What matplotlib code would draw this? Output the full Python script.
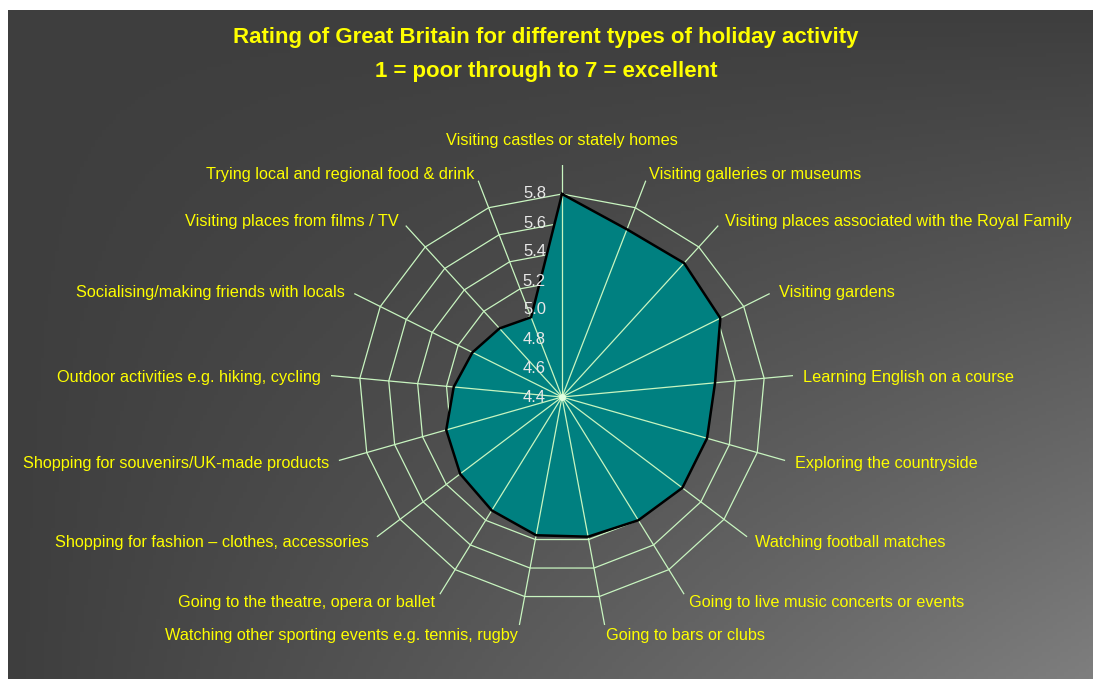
import numpy as np
import matplotlib
matplotlib.use('Agg')
from matplotlib import pyplot as plt
from matplotlib import transforms

# data
categories = ['Visiting castles or stately homes',
              'Visiting galleries or museums',
              'Visiting places associated with the Royal Family',
              'Visiting gardens',
              'Learning English on a course',
              'Exploring the countryside',
              'Watching football matches',
              'Going to live music concerts or events',
              'Going to bars or clubs',
              'Watching other sporting events e.g. tennis, rugby',
              'Going to the theatre, opera or ballet',
              'Shopping for fashion \u2013 clothes, accessories',
              'Shopping for souvenirs/UK-made products',
              'Outdoor activities e.g. hiking, cycling',
              'Socialising/making friends with locals',
              'Visiting places from films / TV',
              'Trying local and regional food & drink']
ratings = [5.80, 5.64, 5.65, 5.62, 5.46, 5.44, 5.44, 5.40, 5.38, 5.37,
           5.32, 5.28, 5.23, 5.15, 5.09, 5.04, 4.99]
rings = [4.6, 4.8, 5.0, 5.2, 5.4, 5.6, 5.8]
tick_labels = ['4.4', '4.6', '4.8', '5.0', '5.2', '5.4', '5.6', '5.8']
r_min, r_max = 4.4, 6.0

plt.rcParams['font.family'] = ['Liberation Sans', 'DejaVu Sans']

W, H = 1093, 679
fig = plt.figure(figsize=(W / 100, H / 100), dpi=100)
fig.patch.set_facecolor('white')

# gradient background (dark top-left -> lighter bottom-right)
bg = fig.add_axes([8 / W, 0, 1 - 8 / W, 1 - 10 / H], zorder=-5)
xx, yy = np.meshgrid(np.linspace(0, 1, 300), np.linspace(0, 1, 200))
shade = 0x3e + (0x7e - 0x3e) * (xx * yy)
bg.imshow(np.dstack([shade / 255.0] * 3), aspect='auto', extent=(0, 1, 1, 0))
bg.set_axis_off()

fig.text(546 / W, 1 - 38 / H, 'Rating of Great Britain for different types of holiday activity',
         color='#ffff00', fontsize=16, fontweight='bold', ha='center', va='center')
fig.text(546 / W, 1 - 71 / H, '1 = poor through to 7 = excellent',
         color='#ffff00', fontsize=16, fontweight='bold', ha='center', va='center')

cx, cy, rad = 562, 397, 232
ax = fig.add_axes([(cx - rad) / W, (H - cy - rad) / H, 2 * rad / W, 2 * rad / H],
                  projection='polar')
ax.set_theta_zero_location('N')
ax.set_theta_direction(-1)
ax.set_ylim(r_min, r_max)
ax.patch.set_alpha(0)
ax.spines['polar'].set_visible(False)
ax.grid(False)
ax.set_xticks([])
ax.set_yticks([])

n = len(categories)
theta = np.arange(n) * 2 * np.pi / n
closed_t = np.append(theta, theta[0])
closed_v = np.append(ratings, ratings[0])

grid_col = '#c8f5c0'
# rings sit under the filled area, spokes on top of it
for rv in rings:
    ax.plot(closed_t, [rv] * (n + 1), color=grid_col, lw=0.9, zorder=1)
ax.fill(closed_t, closed_v, color='#008080', zorder=2)
for t in theta:
    ax.plot([t, t], [r_min, r_max], color=grid_col, lw=0.9, zorder=3)
ax.plot(closed_t, closed_v, color='black', lw=1.8, zorder=4)
ax.plot([0], [r_min], 'o', ms=5, color='#e0ffe0', mec='none', zorder=5)

# radial tick labels left of the top spoke
tick_tr = transforms.offset_copy(ax.transData, fig=fig, x=-16, y=0, units='dots')
for lab in tick_labels:
    ax.text(0, float(lab), lab, transform=tick_tr, color='#e8e8e8', fontsize=12,
            ha='right', va='center', zorder=6)

# category labels around the outside
up_tr = transforms.offset_copy(ax.transData, fig=fig, x=0, y=-3, units='dots')
for t, lab in zip(theta, categories):
    s = np.sin(t)
    if abs(s) < 0.01:
        ax.text(t, r_max + 0.17, lab, color='#ffff00', fontsize=11.7,
                ha='center', va='center', clip_on=False)
    else:
        ax.text(t, r_max + 0.07, lab, color='#ffff00', fontsize=11.7,
                transform=up_tr if np.cos(t) > 0 else ax.transData,
                ha='left' if s > 0 else 'right', va='center', clip_on=False)

fig.savefig('out.png', dpi=100, facecolor=fig.get_facecolor())
